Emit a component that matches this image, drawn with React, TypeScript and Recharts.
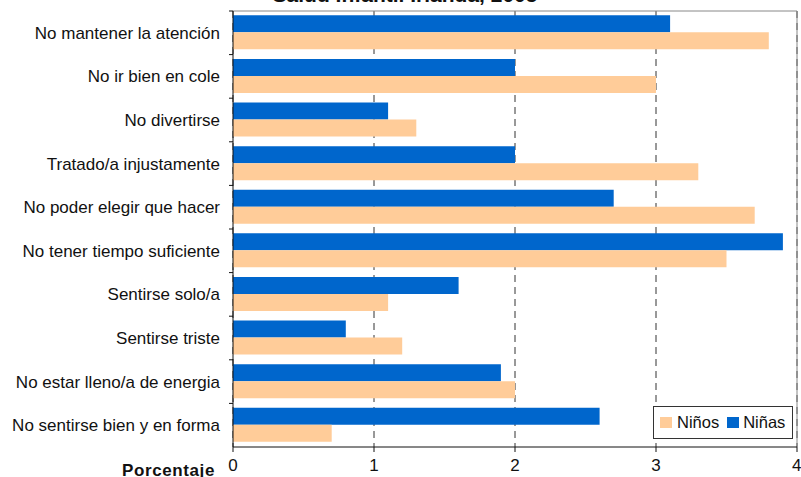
import { Bar, BarChart, CartesianGrid, Customized, XAxis, YAxis } from "recharts";

const categories = [
  "No mantener la atención",
  "No ir bien en cole",
  "No divertirse",
  "Tratado/a injustamente",
  "No poder elegir que hacer",
  "No tener tiempo suficiente",
  "Sentirse solo/a",
  "Sentirse triste",
  "No estar lleno/a de energia",
  "No sentirse bien y en forma",
];
const ninas = [3.1, 2.0, 1.1, 2.0, 2.7, 3.9, 1.6, 0.8, 1.9, 2.6];
const ninos = [3.8, 3.0, 1.3, 3.3, 3.7, 3.5, 1.1, 1.2, 2.0, 0.7];
const xTicks = [0, 1, 2, 3, 4];

const BLUE = "#0066CC";
const PEACH = "#FFCC99";
const FONT = "Liberation Sans, Arial, sans-serif";

const data = categories.map((c, i) => ({ name: c, ninas: ninas[i], ninos: ninos[i] }));

function LegendBox() {
  return (
    <div
      style={{
        position: "absolute",
        left: 653,
        top: 406,
        border: "1px solid #333",
        background: "#fff",
        width: 140,
        height: 33,
        boxSizing: "border-box",
        display: "flex",
        alignItems: "center",
        paddingLeft: 6,
        fontFamily: FONT,
        fontSize: 16.5,
        color: "#111",
      }}
    >
      <span style={{ width: 12, height: 11, background: PEACH, marginRight: 5 }} />
      <span style={{ marginRight: 8 }}>Niños</span>
      <span style={{ width: 12, height: 11, background: BLUE, marginRight: 4 }} />
      <span>Niñas</span>
    </div>
  );
}

function Extras() {
  return (
    <g fontFamily={FONT}>
      <text x={405} y={1.5} textAnchor="middle" fontSize={21} fontWeight="bold" fill="#111">
        Salud Infantil Irlanda, 2005
      </text>
      <text x={215} y={476} textAnchor="end" fontSize={17} fontWeight="bold" fill="#111" letterSpacing={0.6}>
        Porcentaje
      </text>
      <path d="M233 11 H797 V447" fill="none" stroke="#888" strokeWidth={1} />
      {categories.map((_, i) =>
        <line key={i} x1={229} x2={233} y1={11 + (436 / 10) * i} y2={11 + (436 / 10) * i} stroke="#111" />
      )}
    </g>
  );
}

export default function App() {
  return (
    <div style={{ position: "absolute", left: 0, top: 0, background: "#fff", width: 801, height: 477 }}>
      <BarChart
        width={801}
        height={477}
        data={data}
        layout="vertical"
        margin={{ top: 11, right: 4, bottom: 0, left: 0 }}
        barCategoryGap="10%"
        barGap={0}
      >
        <CartesianGrid horizontal={false} stroke="#333" strokeDasharray="7 5" />
        <XAxis
          type="number"
          domain={[0, 4]}
          ticks={xTicks}
          height={30}
          tickSize={5}
          tickMargin={7}
          axisLine={{ stroke: "#111" }}
          tickLine={{ stroke: "#111" }}
          tick={{ fontSize: 17, fill: "#111", fontFamily: FONT }}
        />
        <YAxis
          type="category"
          dataKey="name"
          width={233}
          tickSize={0}
          tickMargin={13}
          axisLine={{ stroke: "#111" }}
          tickLine={false}
          tick={{ fontSize: 17, fill: "#111", fontFamily: FONT }}
        />
        <Bar dataKey="ninas" name="Niñas" fill={BLUE} isAnimationActive={false} />
        <Bar dataKey="ninos" name="Niños" fill={PEACH} isAnimationActive={false} />
        <Customized component={Extras} />
      </BarChart>
      <LegendBox />
    </div>
  );
}
